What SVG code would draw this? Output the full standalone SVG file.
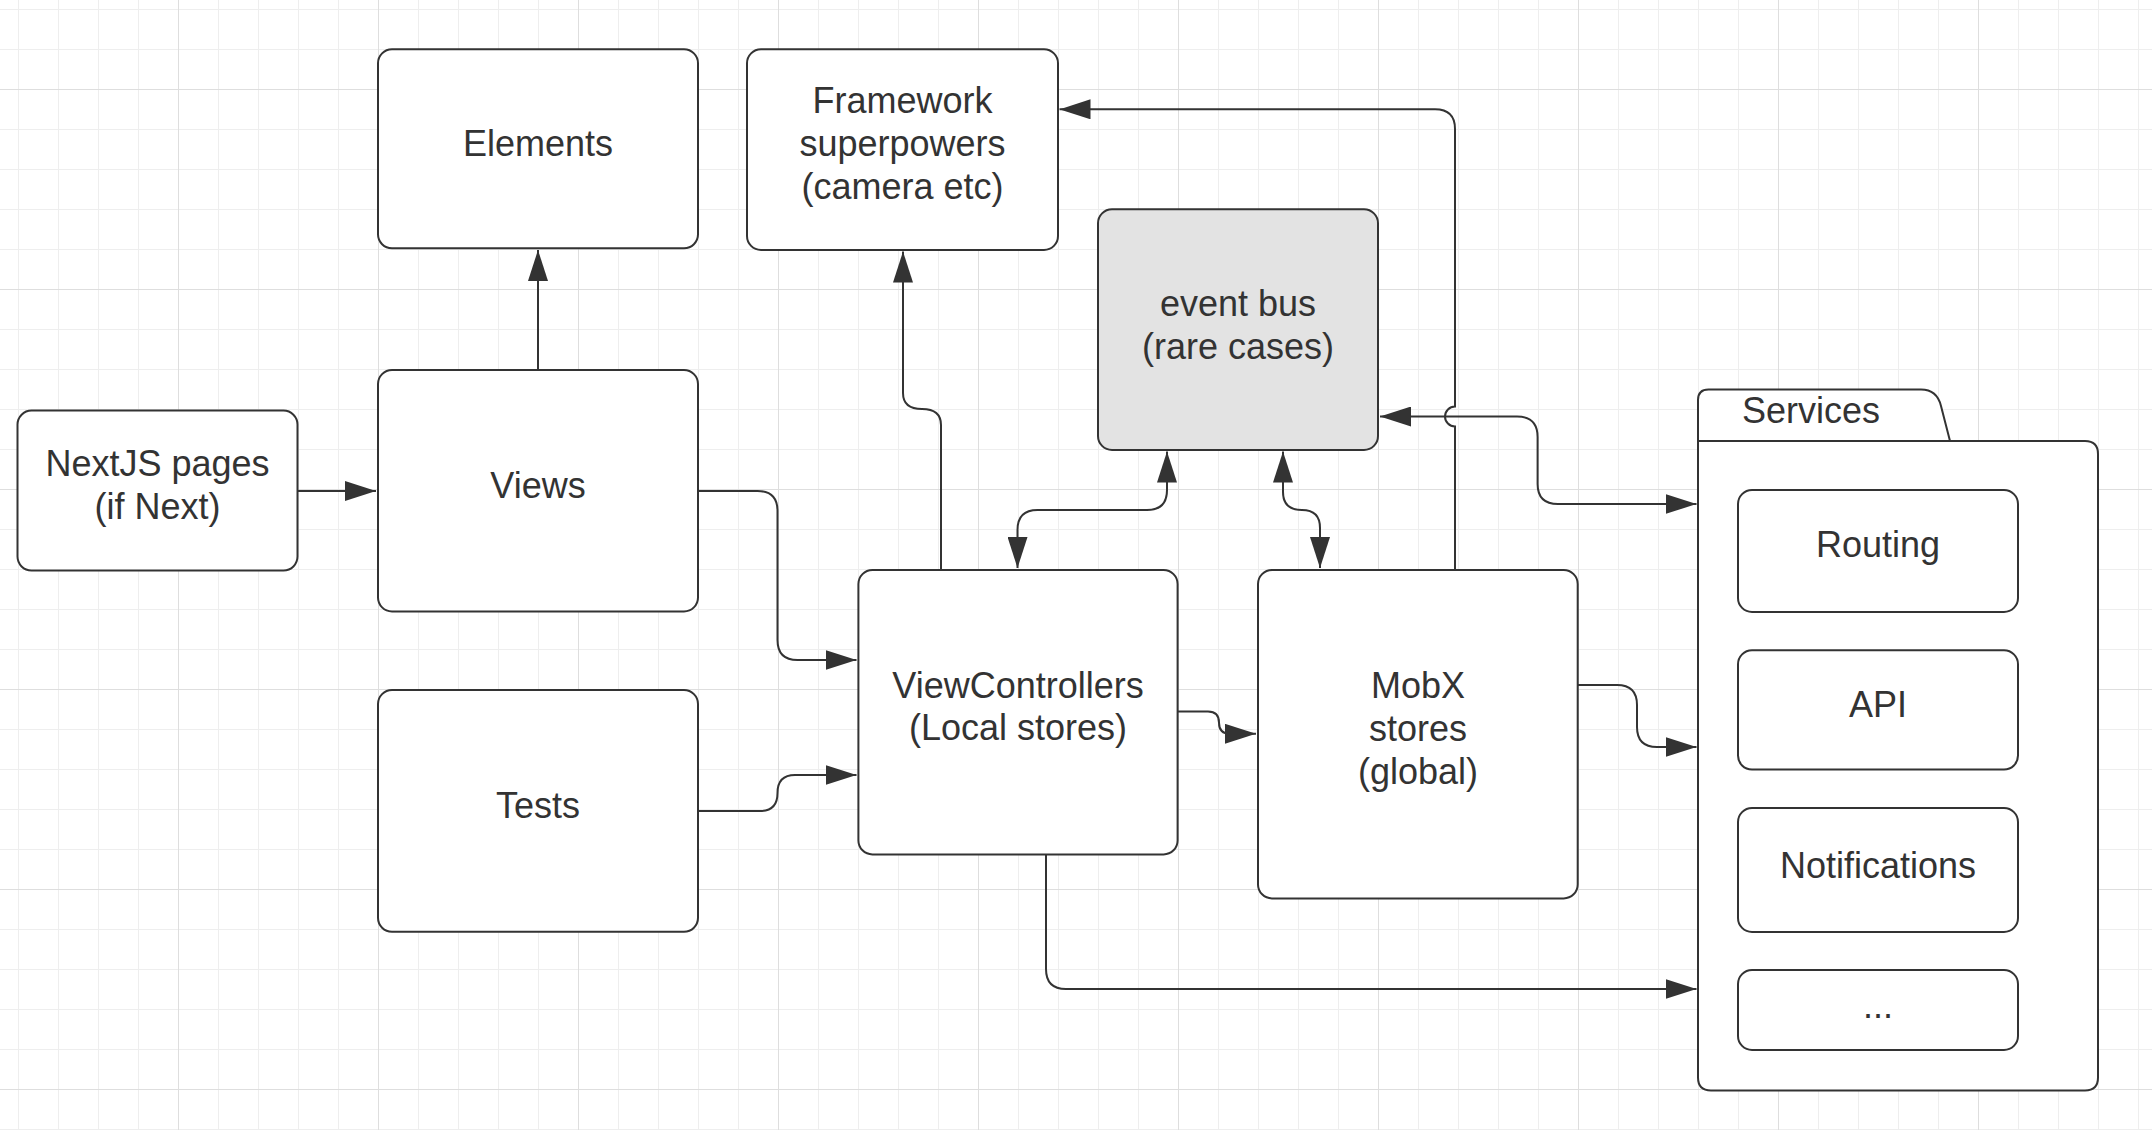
<svg xmlns="http://www.w3.org/2000/svg" width="2152" height="1130" viewBox="0 0 2152 1130">
<style>
.box{fill:#fff;stroke:#333;stroke-width:2}
.bus{fill:#e3e3e3;stroke:#333;stroke-width:2}
.lbl{font-family:"Liberation Sans",Arial,sans-serif;font-size:36px;fill:#333;text-anchor:middle}
.lbl-start{font-family:"Liberation Sans",Arial,sans-serif;font-size:36px;fill:#333;text-anchor:start}
.conn{fill:none;stroke:#333;stroke-width:2}
</style>
<defs>
<pattern id="gMinor" x="18" y="9" width="40" height="40" patternUnits="userSpaceOnUse">
<path d="M0,0.5 H40 M0.5,0 V40" stroke="#eeeeee" stroke-width="1" fill="none"/>
</pattern>
<pattern id="gMajor" x="178" y="89" width="200" height="200" patternUnits="userSpaceOnUse">
<path d="M0,0.5 H200 M0.5,0 V200" stroke="#dedede" stroke-width="1" fill="none"/>
</pattern>
<marker id="ah" viewBox="0 0 31 20" refX="31" refY="10" markerWidth="31" markerHeight="20" markerUnits="userSpaceOnUse" orient="auto-start-reverse">
<path d="M0,0 L31,10 L0,20 Z" fill="#333"/>
</marker>
</defs>
<rect x="0" y="0" width="2152" height="1130" fill="#fff"/>
<rect x="0" y="0" width="2152" height="1130" fill="url(#gMinor)"/>
<rect x="0" y="0" width="2152" height="1130" fill="url(#gMajor)"/>

<g id="connectors">
<path class="conn" d="M538,370 V250" marker-end="url(#ah)"/>
<path class="conn" d="M297.5,491 H376" marker-end="url(#ah)"/>
<path class="conn" d="M698,491 H757.5 Q777.5,491 777.5,511 V640 Q777.5,660 797.5,660 H856.5" marker-end="url(#ah)"/>
<path class="conn" d="M698,811 H760 Q777.5,811 777.5,793 Q777.5,775 795,775 H856.5" marker-end="url(#ah)"/>
<path class="conn" d="M941,570 V425 Q941,409 922,409 Q903,409 903,393 V251.5" marker-end="url(#ah)"/>
<path class="conn" d="M1017.5,568 V530 Q1017.5,510 1037.5,510 H1147 Q1167,510 1167,490 V451.5" marker-start="url(#ah)" marker-end="url(#ah)"/>
<path class="conn" d="M1320,568 V528 Q1320,510 1302,510 Q1283,510 1283,492 V451.5" marker-start="url(#ah)" marker-end="url(#ah)"/>
<path class="conn" d="M1178,711.6 H1208 Q1219,711.6 1219,722.7 Q1219,733.8 1230,733.8 H1256" marker-end="url(#ah)"/>
<path class="conn" d="M1455,570 V426.5 A10,10 0 0 1 1455,406.5 V129 Q1455,109.3 1435,109.3 H1059.5" marker-end="url(#ah)"/>
<path class="conn" d="M1380,416.5 H1517 Q1537.6,416.5 1537.6,437 V484 Q1537.6,504 1558,504 H1696.5" marker-start="url(#ah)" marker-end="url(#ah)"/>
<path class="conn" d="M1578,685 H1617 Q1637,685 1637,705 V727 Q1637,747 1657,747 H1696.5" marker-end="url(#ah)"/>
<path class="conn" d="M1046,854.4 V969 Q1046,989 1066,989 H1696.5" marker-end="url(#ah)"/>
</g>

<g id="node-elements">
<rect class="box" x="378" y="49.3" width="320" height="199" rx="14"/>
<text class="lbl" x="538" y="156">Elements</text>
</g>
<g id="node-framework">
<rect class="box" x="747" y="49.3" width="311" height="200.7" rx="14"/>
<text class="lbl" x="902.5" y="113">Framework</text>
<text class="lbl" x="902.5" y="156">superpowers</text>
<text class="lbl" x="902.5" y="199">(camera etc)</text>
</g>
<g id="node-eventbus">
<rect class="bus" x="1098" y="209.3" width="280" height="240.7" rx="14"/>
<text class="lbl" x="1238" y="316">event bus</text>
<text class="lbl" x="1238" y="359">(rare cases)</text>
</g>
<g id="node-nextjs">
<rect class="box" x="17.5" y="410.6" width="280" height="160" rx="14"/>
<text class="lbl" x="157.5" y="476">NextJS pages</text>
<text class="lbl" x="157.5" y="519">(if Next)</text>
</g>
<g id="node-views">
<rect class="box" x="378" y="370" width="320" height="241.5" rx="14"/>
<text class="lbl" x="538" y="498">Views</text>
</g>
<g id="node-tests">
<rect class="box" x="378" y="690" width="320" height="241.8" rx="14"/>
<text class="lbl" x="538" y="818">Tests</text>
</g>
<g id="node-viewcontrollers">
<rect class="box" x="858.4" y="570" width="319.2" height="284.4" rx="14"/>
<text class="lbl" x="1018" y="697.5">ViewControllers</text>
<text class="lbl" x="1018" y="740">(Local stores)</text>
</g>
<g id="node-mobx">
<rect class="box" x="1258" y="570" width="319.7" height="328.4" rx="14"/>
<text class="lbl" x="1418" y="698">MobX</text>
<text class="lbl" x="1418" y="741">stores</text>
<text class="lbl" x="1418" y="784">(global)</text>
</g>
<g id="node-services">
<path class="box" d="M1698,441 V400 Q1698,389.5 1708.5,389.5 H1921 Q1937,389.5 1941,406 L1950,441 Z"/>
<path class="box" d="M1698,441 H2085 Q2098,441 2098,454 V1077.5 Q2098,1090.4 2085,1090.4 H1711 Q1698,1090.4 1698,1077.5 Z"/>
<text class="lbl-start" x="1742" y="423">Services</text>
</g>
<g id="node-routing">
<rect class="box" x="1738" y="490" width="280" height="122" rx="14"/>
<text class="lbl" x="1878" y="557">Routing</text>
</g>
<g id="node-api">
<rect class="box" x="1738" y="650.3" width="280" height="119.3" rx="14"/>
<text class="lbl" x="1878" y="717">API</text>
</g>
<g id="node-notifications">
<rect class="box" x="1738" y="808" width="280" height="124" rx="14"/>
<text class="lbl" x="1878" y="878">Notifications</text>
</g>
<g id="node-more">
<rect class="box" x="1738" y="970" width="280" height="80" rx="14"/>
<text class="lbl" x="1878" y="1018">...</text>
</g>
</svg>
